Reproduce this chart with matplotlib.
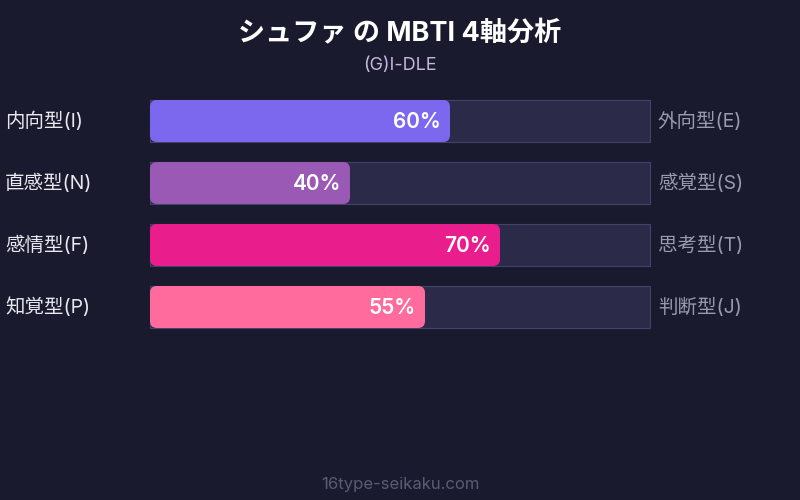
import matplotlib
matplotlib.use('Agg')
import matplotlib.pyplot as plt
from matplotlib.patches import FancyBboxPatch, Rectangle

bgcol    = '#1a1a2e'
trackcol = '#2b2a48'
edgecol  = '#43426a'
rightcol = '#9a9aae'
fonts    = ['Inter', 'Noto Sans CJK JP', 'DejaVu Sans']

title    = 'シュファ の MBTI 4軸分析'
subtitle = '(G)I-DLE'
footer   = '16type-seikaku.com'

left_labels  = ['内向型(I)', '直感型(N)', '感情型(F)', '知覚型(P)']
right_labels = ['外向型(E)', '感覚型(S)', '思考型(T)', '判断型(J)']
values       = [60, 40, 70, 55]
colors       = ['#7b68ee', '#9b59b6', '#e91e8c', '#ff6b9d']

fig = plt.figure(figsize=(8, 5), dpi=100)
fig.patch.set_facecolor(bgcol)
ax = fig.add_axes([0, 0, 1, 1])
ax.set_xlim(0, 800)
ax.set_ylim(500, 0)
ax.axis('off')

x0, w, h = 150, 500, 42
for i, (ll, rl, v, c) in enumerate(zip(left_labels, right_labels, values, colors)):
    yc = 121 + 62 * i
    ax.add_patch(Rectangle((x0, yc - h / 2), w, h, facecolor=trackcol,
                           edgecolor=edgecol, lw=0.8))
    bw = w * v / 100
    ax.add_patch(FancyBboxPatch((x0 + 5, yc - h / 2 + 5), bw - 10, h - 10,
                                boxstyle='round,pad=5,rounding_size=7',
                                facecolor=c, edgecolor='none'))
    ax.text(x0 + bw - 9, yc + 1, f'{v}%', color='white', fontsize=15,
            fontweight='semibold', ha='right', va='center', family=fonts)
    ax.text(5, yc, ll, color='#e8e8f0', fontsize=14, ha='left', va='center', family=fonts)
    ax.text(658, yc, rl, color=rightcol, fontsize=14, ha='left', va='center', family=fonts)

ax.text(400, 34, title, color='white', fontsize=19.5, fontweight='bold',
        ha='center', va='center', family=fonts)
ax.text(400, 65, subtitle, color='#c8b4e0', fontsize=13, ha='center', va='center', family=fonts)
ax.text(400, 484, footer, color='#5a5a76', fontsize=12, ha='center', va='center', family=fonts)

fig.savefig('out.png', facecolor=bgcol, dpi=100)
